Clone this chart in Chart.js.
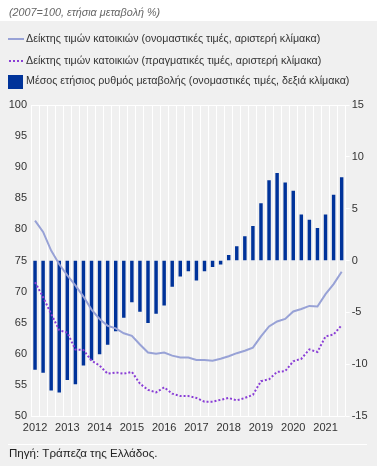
<!DOCTYPE html>
<html lang="el">
  <head>
    <meta charset="utf-8">
    <title>Δείκτης τιμών κατοικιών</title>
    <style>
      html, body {
        margin: 0;
        padding: 0;
        background: #ffffff;
        font-family: "Liberation Sans", Arial, sans-serif;
      }
      #page {
        position: relative;
        width: 381px;
        height: 466px;
        overflow: hidden;
      }
      #panel {
        position: absolute;
        left: 0; top: 21px;
        width: 377px; height: 445px;
        background: #f0f0f0;
      }
      #wrap {
        position: absolute;
        left: 0; top: 0;
        width: 381px; height: 466px;
      }
      .txt { position: absolute; white-space: nowrap; color: #333; }
      #title { left: 9px; top: 6px; font-size: 10.8px; font-style: italic; color: #666; }
      .leg { left: 26px; font-size: 10.7px; }
      .mark { position: absolute; }
      #sep { position: absolute; left: 8px; top: 444px; width: 359px; height: 1px; background: #fff; }
      #source { left: 9px; top: 446px; font-size: 11.6px; color: #222; }
    </style>
  </head>
  <body>
    <div id="page">
      <div id="panel"></div>
      <div id="wrap"><canvas id="canvas"></canvas></div>
      <div class="txt" id="title">(2007=100, ετήσια μεταβολή %)</div>

      <div class="mark" style="left:8px;top:38px;width:16px;height:2px;background:#98a2d6"></div>
      <div class="txt leg" style="top:32px">Δείκτης τιμών κατοικιών (ονομαστικές τιμές, αριστερή κλίμακα)</div>

      <div class="mark" style="left:9px;top:60px;width:14px;height:0;border-top:2px dotted #8a3ed6"></div>
      <div class="txt leg" style="top:54px">Δείκτης τιμών κατοικιών (πραγματικές τιμές, αριστερή κλίμακα)</div>

      <div class="mark" style="left:8px;top:75px;width:15px;height:14px;background:#00339a"></div>
      <div class="txt leg" style="top:74px">Μέσος ετήσιος ρυθμός μεταβολής (ονομαστικές τιμές, δεξιά κλίμακα)</div>

      <div id="sep"></div>
      <div class="txt" id="source">Πηγή: Τράπεζα της Ελλάδος.</div>
    </div>

    <script src="https://cdn.jsdelivr.net/npm/chart.js"></script>
    <script>
      // quarters 2012Q1 - 2021Q3
      let quarters = [
        '2012Q1','2012Q2','2012Q3','2012Q4',
        '2013Q1','2013Q2','2013Q3','2013Q4',
        '2014Q1','2014Q2','2014Q3','2014Q4',
        '2015Q1','2015Q2','2015Q3','2015Q4',
        '2016Q1','2016Q2','2016Q3','2016Q4',
        '2017Q1','2017Q2','2017Q3','2017Q4',
        '2018Q1','2018Q2','2018Q3','2018Q4',
        '2019Q1','2019Q2','2019Q3','2019Q4',
        '2020Q1','2020Q2','2020Q3','2020Q4',
        '2021Q1','2021Q2','2021Q3'
      ];

      // nominal house price index (left axis)
      let nominalIndex = [
        81.4, 79.6, 76.6, 74.4, 72.6, 71.0, 69.2, 67.1, 65.6, 64.5,
        64.1, 63.3, 62.9, 61.5, 60.2, 60.0, 60.2, 59.7, 59.4, 59.4,
        59.0, 59.0, 58.9, 59.2, 59.6, 60.1, 60.5, 61.0, 62.8, 64.4,
        65.2, 65.6, 66.8, 67.2, 67.7, 67.6, 69.6, 71.2, 73.2
      ];

      // real house price index (left axis)
      let realIndex = [
        71.5, 69.1, 66.4, 63.8, 63.4, 60.7, 60.6, 58.9, 58.1, 56.8,
        57.0, 56.8, 57.1, 55.2, 54.2, 53.8, 54.6, 53.6, 53.2, 53.2,
        52.9, 52.3, 52.3, 52.6, 52.9, 52.5, 52.9, 53.4, 55.6, 55.9,
        57.1, 57.2, 58.8, 59.2, 60.7, 60.3, 62.8, 63.1, 64.6
      ];

      // average annual rate of change, nominal (right axis)
      let annualChange = [
        -10.5, -10.8, -12.5, -12.7, -11.5, -11.9, -10.1, -9.6, -9.0, -8.1,
        -6.8, -5.5, -4.0, -4.9, -6.0, -5.1, -4.3, -2.5, -1.5, -1.0,
        -1.9, -1.0, -0.6, -0.35, 0.5, 1.35, 2.3, 3.3, 5.5, 7.7,
        8.4, 7.5, 6.7, 4.4, 3.9, 3.1, 4.4, 6.3, 8.0
      ];

      let tickFont = { family: '"Liberation Sans", Arial, sans-serif', size: 11 };
      let tickColor = '#333';

      let options = {
        data: {
          labels: quarters,
          datasets: [
            {
              type: 'line',
              label: 'Δείκτης τιμών κατοικιών (ονομαστικές τιμές, αριστερή κλίμακα)',
              data: nominalIndex,
              yAxisID: 'y',
              borderColor: '#98a2d6',
              borderWidth: 2,
              pointRadius: 0,
              tension: 0,
              order: 1
            },
            {
              type: 'line',
              label: 'Δείκτης τιμών κατοικιών (πραγματικές τιμές, αριστερή κλίμακα)',
              data: realIndex,
              yAxisID: 'y',
              borderColor: '#8a3ed6',
              borderWidth: 2,
              borderDash: [2, 2],
              pointRadius: 0,
              tension: 0,
              order: 0
            },
            {
              type: 'bar',
              label: 'Μέσος ετήσιος ρυθμός μεταβολής (ονομαστικές τιμές, δεξιά κλίμακα)',
              data: annualChange,
              yAxisID: 'y1',
              backgroundColor: '#00339a',
              barThickness: 2.8,
              order: 2
            }
          ]
        },
        options: {
          responsive: true,
          maintainAspectRatio: false,
          animation: false,
          layout: { padding: { top: 105, bottom: 30, left: 0, right: 0 } },
          plugins: {
            legend: { display: false },
            tooltip: { enabled: false }
          },
          scales: {
            x: {
              type: 'category',
              offset: true,
              afterFit: function(scale) { scale.height = 20; },
              grid: { color: '#ffffff', lineWidth: 1, offset: true, drawTicks: false },
              border: { display: false },
              ticks: {
                autoSkip: false,
                maxRotation: 0,
                padding: 5,
                font: tickFont,
                color: tickColor,
                callback: function(v, i) {
                  let q = quarters[i];
                  return q.endsWith('Q1') ? q.slice(0, 4) : '';
                }
              }
            },
            y: {
              position: 'left',
              min: 50,
              max: 100,
              afterFit: function(scale) { scale.width = 31; },
              grid: {
                drawTicks: false,
                color: function(ctx) {
                  return (ctx.tick && (ctx.tick.value === 100 || ctx.tick.value === 50)) ? '#ffffff' : 'rgba(0,0,0,0)';
                }
              },
              border: { display: false },
              ticks: { stepSize: 5, padding: 4, font: tickFont, color: tickColor }
            },
            y1: {
              position: 'right',
              min: -15,
              max: 15,
              afterFit: function(scale) { scale.width = 35.3; },
              grid: { drawOnChartArea: false, drawTicks: true, tickLength: 4, color: '#ffffff' },
              border: { display: false },
              ticks: { stepSize: 5, padding: 2, font: tickFont, color: tickColor }
            }
          }
        }
      };

      let chart = new Chart(document.getElementById('canvas'), options);
    </script>
  </body>
</html>
